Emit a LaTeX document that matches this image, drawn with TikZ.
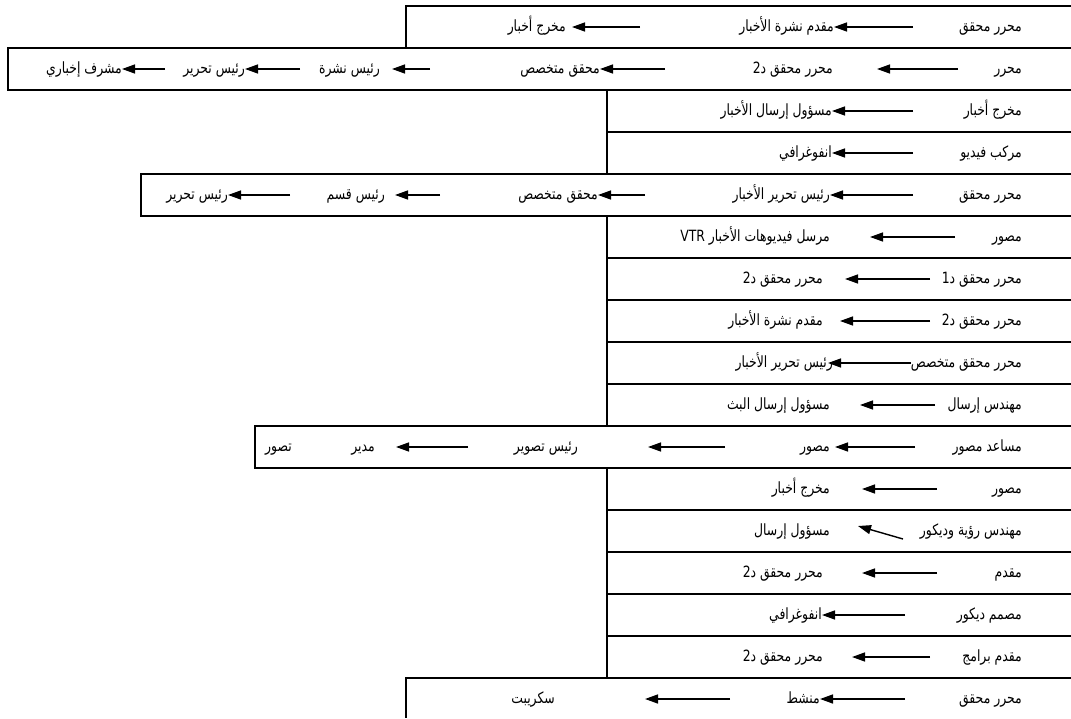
\documentclass[tikz,border=0pt]{standalone}
\usepackage{fontspec}
\setmainfont{Liberation Sans}
\newfontfamily\arabicfont[Script=Arabic,FakeStretch=0.8]{DejaVu Sans}
\usetikzlibrary{arrows.meta}
\TeXXeTstate=1
\newcommand{\artxt}[1]{{\arabicfont\beginR #1\endR}}

\begin{document}
\begin{tikzpicture}[x=1pt,y=-1pt,
  lbl/.style={anchor=base east,inner sep=0pt,yshift=-4.5pt,font=\fontsize{15.5}{18}\selectfont},
  arr/.style={-{Triangle[length=13pt,width=9pt]},line width=1.4pt},
  rule/.style={line width=1.6pt}]
  \useasboundingbox (0,0) rectangle (1071,718);

  % Table rules
  \draw[rule] (1071,6) -- (406,6) -- (406,48);
  \draw[rule] (1071,48) -- (8,48) -- (8,90) -- (1071,90);
  \draw[rule] (607,90) -- (607,174);
  \draw[rule] (1071,132) -- (607,132);
  \draw[rule] (1071,174) -- (141,174) -- (141,216) -- (1071,216);
  \draw[rule] (607,216) -- (607,426);
  \foreach \y in {258,300,342,384} \draw[rule] (1071,\y) -- (607,\y);
  \draw[rule] (1071,426) -- (255,426) -- (255,468) -- (1071,468);
  \draw[rule] (607,468) -- (607,678);
  \foreach \y in {510,552,594,636} \draw[rule] (1071,\y) -- (607,\y);
  \draw[rule] (1071,678) -- (406,678) -- (406,718);

  % Row 1
  \node[lbl] (r1a) at (1022,27) {\artxt{محرر محقق}};
  \node[lbl] (r1b) at (834,27) {\artxt{مقدم نشرة الأخبار}};
  \node[lbl] (r1c) at (566,27) {\artxt{مخرج أخبار}};
  \coordinate (r1t1) at (913,27);
  \coordinate (r1t2) at (640,27);
  \coordinate (r1h2) at (572,27);
  \draw[arr] (r1t1) -- (r1b.east |- r1t1);
  \draw[arr] (r1t2) -- (r1h2);

  % Row 2
  \node[lbl] (r2a) at (1022,69) {\artxt{محرر}};
  \node[lbl] (r2b) at (833,69) {\artxt{محرر محقق د2}};
  \node[lbl] (r2c) at (600,69) {\artxt{محقق متخصص}};
  \node[lbl] (r2d) at (380,69) {\artxt{رئيس نشرة}};
  \node[lbl] (r2e) at (245,69) {\artxt{رئيس تحرير}};
  \node[lbl] (r2f) at (122,69) {\artxt{مشرف إخباري}};
  \coordinate (r2t1) at (958,69);
  \coordinate (r2h1) at (877,69);
  \coordinate (r2t2) at (665,69);
  \coordinate (r2t3) at (430,69);
  \coordinate (r2h3) at (392,69);
  \coordinate (r2t4) at (300,69);
  \coordinate (r2t5) at (165,69);
  \draw[arr] (r2t1) -- (r2h1);
  \draw[arr] (r2t2) -- (r2c.east |- r2t2);
  \draw[arr] (r2t3) -- (r2h3);
  \draw[arr] (r2t4) -- (r2e.east |- r2t4);
  \draw[arr] (r2t5) -- (r2f.east |- r2t5);

  % Rows 3-4
  \node[lbl] (r3a) at (1022,111) {\artxt{مخرج أخبار}};
  \node[lbl] (r3b) at (832,111) {\artxt{مسؤول إرسال الأخبار}};
  \node[lbl] (r4a) at (1022,153) {\artxt{مركب فيديو}};
  \node[lbl] (r4b) at (832,153) {\artxt{انفوغرافي}};
  \coordinate (r3t1) at (913,111);
  \coordinate (r4t1) at (913,153);
  \draw[arr] (r3t1) -- (r3b.east |- r3t1);
  \draw[arr] (r4t1) -- (r4b.east |- r4t1);

  % Row 5
  \node[lbl] (r5a) at (1022,195) {\artxt{محرر محقق}};
  \node[lbl] (r5b) at (830,195) {\artxt{رئيس تحرير الأخبار}};
  \node[lbl] (r5c) at (598,195) {\artxt{محقق متخصص}};
  \node[lbl] (r5d) at (385,195) {\artxt{رئيس قسم}};
  \node[lbl] (r5e) at (228,195) {\artxt{رئيس تحرير}};
  \coordinate (r5t1) at (913,195);
  \coordinate (r5t2) at (645,195);
  \coordinate (r5t3) at (440,195);
  \coordinate (r5h3) at (395,195);
  \coordinate (r5t4) at (290,195);
  \draw[arr] (r5t1) -- (r5b.east |- r5t1);
  \draw[arr] (r5t2) -- (r5c.east |- r5t2);
  \draw[arr] (r5t3) -- (r5h3);
  \draw[arr] (r5t4) -- (r5e.east |- r5t4);

  % Rows 6-10
  \node[lbl] (r6a) at (1022,237) {\artxt{مصور}};
  \node[lbl] (r6b) at (830,237) {\artxt{مرسل فيديوهات الأخبار \beginL VTR\endL}};
  \node[lbl] (r7a) at (1022,279) {\artxt{محرر محقق د1}};
  \node[lbl] (r7b) at (823,279) {\artxt{محرر محقق د2}};
  \node[lbl] (r8a) at (1022,321) {\artxt{محرر محقق د2}};
  \node[lbl] (r8b) at (823,321) {\artxt{مقدم نشرة الأخبار}};
  \node[lbl] (r9a) at (1022,363) {\artxt{محرر محقق متخصص}};
  \node[lbl] (r9b) at (833,363) {\artxt{رئيس تحرير الأخبار}};
  \node[lbl] (r10a) at (1022,405) {\artxt{مهندس إرسال}};
  \node[lbl] (r10b) at (830,405) {\artxt{مسؤول إرسال البث}};
  \coordinate (r6t1) at (955,237);
  \coordinate (r6h1) at (870,237);
  \coordinate (r7t1) at (930,279);
  \coordinate (r7h1) at (845,279);
  \coordinate (r8t1) at (930,321);
  \coordinate (r8h1) at (840,321);
  \coordinate (r9h1) at (828,363);
  \coordinate (r10t1) at (935,405);
  \coordinate (r10h1) at (860,405);
  \draw[arr] (r6t1) -- (r6h1);
  \draw[arr] (r7t1) -- (r7h1);
  \draw[arr] (r8t1) -- (r8h1);
  \draw[arr] (r9a.west |- r9h1) -- (r9h1);
  \draw[arr] (r10t1) -- (r10h1);

  % Row 11
  \node[lbl] (r11a) at (1022,447) {\artxt{مساعد مصور}};
  \node[lbl] (r11b) at (830,447) {\artxt{مصور}};
  \node[lbl] (r11c) at (578,447) {\artxt{رئيس تصوير}};
  \node[lbl] (r11d) at (375,447) {\artxt{مدير}};
  \node[lbl] (r11e) at (292,447) {\artxt{تصور}};
  \coordinate (r11t1) at (915,447);
  \coordinate (r11h1) at (835,447);
  \coordinate (r11t2) at (725,447);
  \coordinate (r11h2) at (648,447);
  \coordinate (r11t3) at (468,447);
  \coordinate (r11h3) at (396,447);
  \draw[arr] (r11t1) -- (r11h1);
  \draw[arr] (r11t2) -- (r11h2);
  \draw[arr] (r11t3) -- (r11h3);

  % Rows 12-16
  \node[lbl] (r12a) at (1022,489) {\artxt{مصور}};
  \node[lbl] (r12b) at (830,489) {\artxt{مخرج أخبار}};
  \node[lbl] (r13a) at (1022,531) {\artxt{مهندس رؤية وديكور}};
  \node[lbl] (r13b) at (830,531) {\artxt{مسؤول إرسال}};
  \node[lbl] (r14a) at (1022,573) {\artxt{مقدم}};
  \node[lbl] (r14b) at (823,573) {\artxt{محرر محقق د2}};
  \node[lbl] (r15a) at (1022,615) {\artxt{مصمم ديكور}};
  \node[lbl] (r15b) at (822,615) {\artxt{انفوغرافي}};
  \node[lbl] (r16a) at (1022,657) {\artxt{مقدم برامج}};
  \node[lbl] (r16b) at (823,657) {\artxt{محرر محقق د2}};
  \coordinate (r12t1) at (937,489);
  \coordinate (r12h1) at (862,489);
  \coordinate (r13t1) at (903,539);
  \coordinate (r13h1) at (858,526);
  \coordinate (r14t1) at (937,573);
  \coordinate (r14h1) at (862,573);
  \coordinate (r15t1) at (905,615);
  \coordinate (r16t1) at (930,657);
  \coordinate (r16h1) at (852,657);
  \draw[arr] (r12t1) -- (r12h1);
  \draw[arr] (r13t1) -- (r13h1);
  \draw[arr] (r14t1) -- (r14h1);
  \draw[arr] (r15t1) -- (r15b.east |- r15t1);
  \draw[arr] (r16t1) -- (r16h1);

  % Row 17
  \node[lbl] (r17a) at (1022,699) {\artxt{محرر محقق}};
  \node[lbl] (r17b) at (820,699) {\artxt{منشط}};
  \node[lbl] (r17c) at (555,699) {\artxt{سكريبت}};
  \coordinate (r17t1) at (905,699);
  \coordinate (r17t2) at (730,699);
  \coordinate (r17h2) at (645,699);
  \draw[arr] (r17t1) -- (r17b.east |- r17t1);
  \draw[arr] (r17t2) -- (r17h2);
\end{tikzpicture}
\end{document}
